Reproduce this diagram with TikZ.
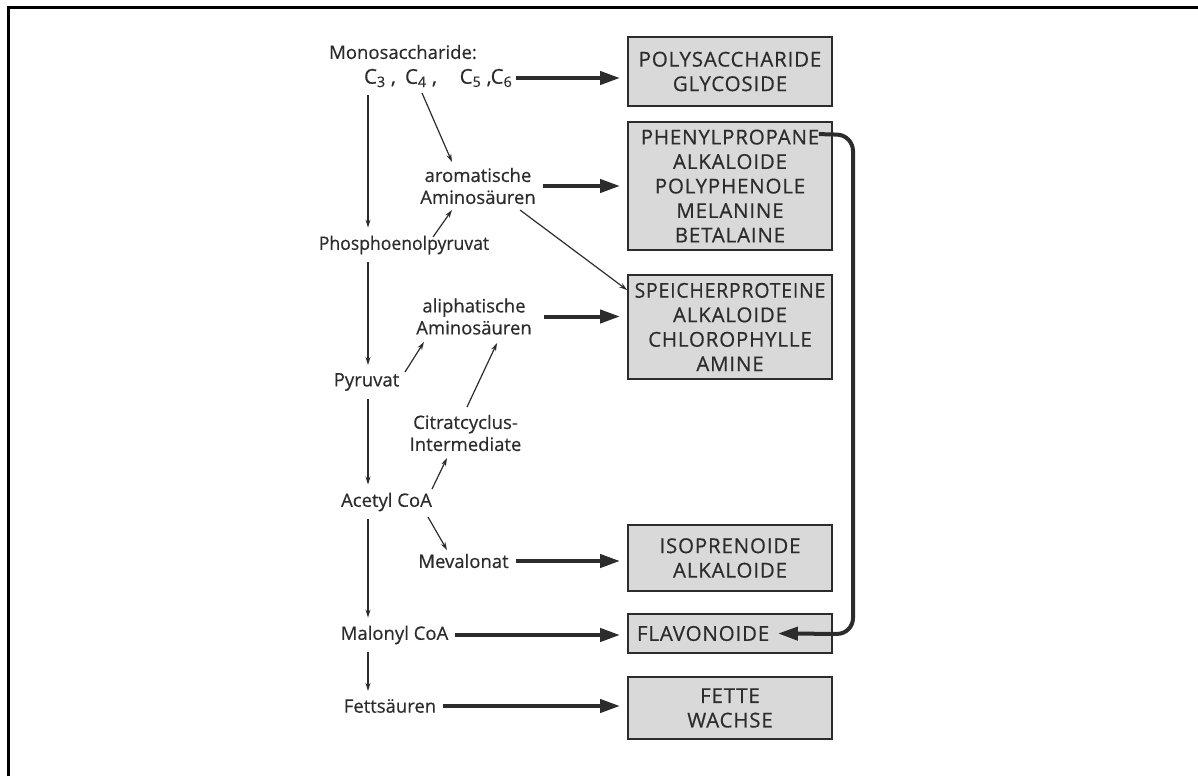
\documentclass[tikz,border=0pt]{standalone}
\usepackage{fontspec}
\setmainfont{Open Sans}[FakeBold=0.5]
\newfontfamily\boxfont{Open Sans}[FakeBold=0.5, LetterSpace=4]
\usetikzlibrary{arrows.meta,positioning}

\definecolor{ink}{HTML}{2C2C2C}
\definecolor{boxgray}{HTML}{D9D9D9}

\tikzset{
  lbl/.style={text=ink, inner sep=0pt, align=center,
              font=\fontsize{18.5}{22}\selectfont},
  carbon/.style={lbl, font=\fontsize{20.5}{22}\selectfont},
  prod/.style={draw=ink, line width=1.8pt, fill=boxgray, text=ink,
               minimum width=204pt, inner sep=0pt, align=center,
               font=\boxfont\fontsize{20.5}{24.5}\selectfont},
  thin/.style={ink, line width=1.2pt, -{Stealth[length=8pt,width=5pt]}},
  spinearrow/.style={thin, shorten <=8pt, shorten >=8pt},
  fat/.style={ink, line width=4pt, -{Triangle[length=20pt,width=13pt]},
              shorten <=7pt, shorten >=7pt},
}

\begin{document}
\begin{tikzpicture}[x=1pt, y=-1pt]
  \useasboundingbox (0,0) rectangle (1198,776);
  % frame
  \draw[line width=3pt] (8.5,776) -- (8.5,7.5) -- (1198,7.5);

  % left column
  \node[lbl] (mono) at (403,52) {Monosaccharide:};
  \node[carbon] (c3)  at (380,78) {C\textsubscript{3} ,};
  \node[carbon] (c4)  at (421,78) {C\textsubscript{4} ,};
  \node[carbon] (c56) at (486,78) {C\textsubscript{5} ,C\textsubscript{6}};
  \node[lbl] (pep)     at (404,245) {\scalebox{0.95}[1]{Phosphoenolpyruvat}};
  \node[lbl] (pyr)     at (366.5,382) {Pyruvat};
  \node[lbl] (acetyl)  at (386.5,502) {Acetyl CoA};
  \node[lbl] (malonyl) at (394.5,635) {Malonyl CoA};
  \node[lbl] (fett)    at (390,706) {Fettsäuren};
  % middle column
  \node[lbl] (arom)   at (478,186)   {aromatische\\Aminosäuren};
  \node[lbl] (aliph)  at (474,316.5) {aliphatische\\Aminosäuren};
  \node[lbl] (citrat) at (465.5,433) {Citratcyclus-\\Intermediate};
  \node[lbl] (meva)   at (463.5,561) {Mevalonat};

  % product boxes
  \node[prod, minimum height=69pt]  (box1) at (730,71.5) {POLYSACCHARIDE\\GLYCOSIDE};
  \node[prod, minimum height=128pt] (box2) at (730,186)  {PHENYLPROPANE\\ALKALOIDE\\POLYPHENOLE\\MELANINE\\BETALAINE};
  \node[prod, minimum height=104pt] (box3) at (730,327)  {\scalebox{0.95}[1]{SPEICHERPROTEINE}\\ALKALOIDE\\CHLOROPHYLLE\\AMINE};
  \node[prod, minimum height=66pt]  (box4) at (730,558)  {ISOPRENOIDE\\ALKALOIDE};
  \node[prod, minimum height=39pt, text width=186pt, inner xsep=9pt, align=left,
        minimum width=0pt] (box5) at (730,633.5) {FLAVONOIDE};
  \node[prod, minimum height=62pt]  (box6) at (730,708)  {FETTE\\WACHSE};

  % main chain
  \coordinate (spine) at (368,0);
  \draw[spinearrow] (spine |- c3.south)      -- (spine |- pep.north);
  \draw[spinearrow] (spine |- pep.south)     -- (spine |- pyr.north);
  \draw[spinearrow] (spine |- pyr.south)     -- (spine |- acetyl.north);
  \draw[spinearrow] (spine |- acetyl.south)  -- (spine |- malonyl.north);
  \draw[spinearrow] (spine |- malonyl.south) -- (spine |- fett.north);

  % side branches
  \draw[thin] ([shift={(1,15)}]c4.center)       -- ([shift={(-26,-24)}]arom.center);
  \draw[thin] ([shift={(29,-8)}]pep.center)     -- ([shift={(-26,24)}]arom.center);
  \draw[thin] ([shift={(42,24)}]arom.center)    -- ([shift={(0,-37)}]box3.west);
  \draw[thin] ([shift={(38.5,-10)}]pyr.center)  -- ([shift={(-50,25.5)}]aliph.center);
  \draw[thin] ([shift={(1.5,-26)}]citrat.center) -- ([shift={(23,26.5)}]aliph.center);
  \draw[thin] ([shift={(45.5,-13)}]acetyl.center) -- ([shift={(-18.5,25)}]citrat.center);
  \draw[thin] ([shift={(41.5,15)}]acetyl.center)  -- ([shift={(-16.5,-11)}]meva.center);

  % into the boxes
  \draw[fat, shorten <=3pt] (c56.east) -- (c56.east -| box1.west);
  \draw[fat] (arom.east) -- (arom.east -| box2.west);
  \draw[fat, shorten <=12pt] (aliph.east) -- (aliph.east -| box3.west);
  \draw[fat] (meva.east) -- (meva.east -| box4.west);
  \draw[fat] (malonyl.east) -- (malonyl.east -| box5.west);
  \draw[fat] (fett.east) -- (fett.east -| box6.west);

  % phenylpropane -> flavonoide
  \coordinate (phenend) at ([shift={(-14,13)}]box2.north east);
  \coordinate (flavend) at ([shift={(-55,0)}]box5.east);
  \draw[fat, shorten <=0pt, shorten >=0pt, rounded corners=16pt]
    (phenend) -- (853,135) -- (853,634) -- (flavend);
\end{tikzpicture}
\end{document}
